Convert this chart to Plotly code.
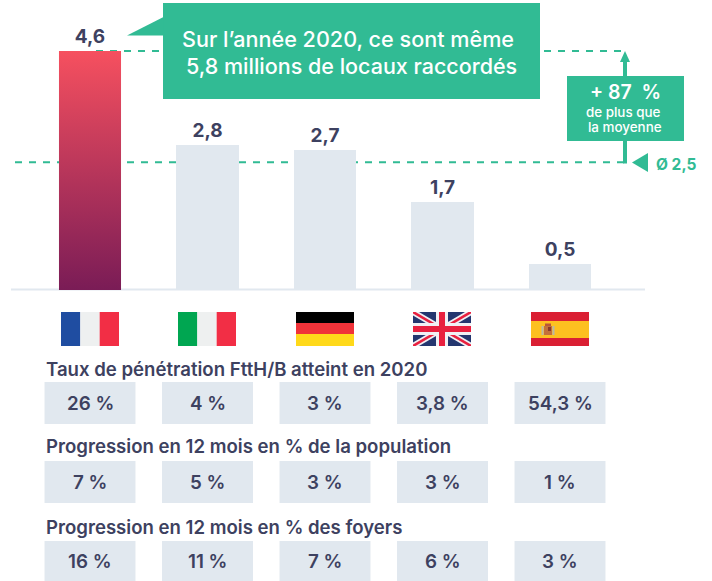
import plotly.graph_objects as go

COUNTRIES = ["France", "Italie", "Allemagne", "Royaume-Uni", "Espagne"]
LOCAUX = [4.6, 2.8, 2.7, 1.7, 0.5]
LABELS = ["4,6", "2,8", "2,7", "1,7", "0,5"]
MOYENNE_TRACE = 2.46
ROW_TITLES = [
    "Taux de pénétration FttH/B atteint en 2020",
    "Progression en 12 mois en % de la population",
    "Progression en 12 mois en % des foyers",
]
ROW_1 = ["26 %", "4 %", "3 %", "3,8 %", "54,3 %"]
ROW_2 = ["7 %", "5 %", "3 %", "3 %", "1 %"]
ROW_3 = ["16 %", "11 %", "7 %", "6 %", "3 %"]

W, H = 712, 581
GREEN = "#31bb94"
DARK = "#3d4160"
CELL = "#e1e8ef"
FONT = "Inter"
BARW = 0.528


def X(p):
    return p / W


def Y(p):
    return 1 - p / H


def poly(pts, color, layer="above"):
    path = "M " + " L ".join(f"{X(a):.5f},{Y(b):.5f}" for a, b in pts) + " Z"
    return dict(type="path", xref="paper", yref="paper", path=path,
                fillcolor=color, line=dict(width=0), layer=layer)


def rect(x0, y0, x1, y1, color, layer="above"):
    return dict(type="rect", xref="paper", yref="paper", x0=X(x0), x1=X(x1),
                y0=Y(y1), y1=Y(y0), fillcolor=color, line=dict(width=0), layer=layer)


def text(x, y, s, size, color=DARK, weight=600, anchor="center"):
    return dict(xref="paper", yref="paper", x=X(x), y=Y(y), text=s, showarrow=False,
                xanchor=anchor, yanchor="middle",
                font=dict(family=FONT, size=size, color=color, weight=weight))


fig = go.Figure()
fig.add_trace(go.Bar(
    x=COUNTRIES, y=LOCAUX, width=BARW,
    marker=dict(color=["#b23a5c", CELL, CELL, CELL, CELL], line=dict(width=0)),
    text=LABELS, textposition="outside", cliponaxis=False,
    textfont=dict(family=FONT, size=19, color=DARK, weight=700),
    hoverinfo="x+y",
))
# French bar gradient, from the first value, on a numeric overlay of the same axis
fig.add_trace(go.Scatter(
    x=[-BARW / 2, BARW / 2, BARW / 2, -BARW / 2, -BARW / 2],
    y=[0, 0, LOCAUX[0], LOCAUX[0], 0],
    xaxis="x2",
    mode="none", fill="toself",
    fillgradient=dict(type="vertical", colorscale=[[0, "#7a1c56"], [1, "#f6505f"]]),
    hoverinfo="skip", showlegend=False,
))

shapes = []
annots = []

# baseline
shapes.append(rect(11, 288.5, 645, 290.5, CELL, "below"))
# dashed reference lines
dash = "7px,7px"
shapes.append(dict(type="line", xref="paper", yref="y", x0=X(96), x1=X(625), y0=LOCAUX[0], y1=LOCAUX[0],
                   line=dict(color=GREEN, width=2, dash=dash), layer="below"))
shapes.append(dict(type="line", xref="paper", yref="y", x0=X(15), x1=X(625), y0=MOYENNE_TRACE, y1=MOYENNE_TRACE,
                   line=dict(color=GREEN, width=2, dash=dash), layer="below"))

# callout
shapes.append(rect(163, 3, 540, 99, GREEN))
shapes.append(poly([(127, 35.5), (163.5, 17), (163.5, 35.5)], GREEN))
annots.append(text(347.5, 38.5, "Sur l’année 2020, ce sont même", 21.6, "white", 500))
annots.append(text(351, 65.5, "5,8 millions de locaux raccordés", 21.5, "white", 500))

# arrow + box
shapes.append(rect(623, 60, 627, 163.5, GREEN))
shapes.append(poly([(625, 51), (630, 62), (620, 62)], GREEN))
shapes.append(rect(567, 76, 684, 141, GREEN))
annots.append(text(625, 92, "+ 87  %", 19.5, "white", 600))
annots.append(text(623.5, 112, "de plus que", 13.4, "white", 500))
annots.append(text(625, 127.5, "la moyenne", 13.4, "white", 500))
shapes.append(poly([(632, 162.5), (648, 153), (648, 172)], GREEN))
annots.append(text(653.5, 164.5, "Ø 2,5", 15.5, GREEN, 700, "left"))

# flags
FT, FB, FW = 312, 346, 58


def vflag(x0, colors):
    s = FW / 3
    return [rect(x0 + i * s, FT, x0 + (i + 1) * s, FB, c) for i, c in enumerate(colors)]


shapes += vflag(61, ["#1f4da1", "#eef0f0", "#f22e45"])
shapes += vflag(178, ["#00a651", "#eef0f0", "#f22e45"])
shapes += [rect(296, 312, 354, 323, "#000000"), rect(296, 323, 354, 334, "#f03339"), rect(296, 334, 354, 346, "#ffd91a")]

# UK
ux0, ux1 = 413, 471
shapes.append(rect(ux0, FT, ux1, FB, "#24366f"))


def diag(t, color):
    return [
        poly([(ux0, FT), (ux0 + t, FT), (ux1, FB - t * .6), (ux1, FB), (ux1 - t, FB), (ux0, FT + t * .6)], color),
        poly([(ux1, FT), (ux1 - t, FT), (ux0, FB - t * .6), (ux0, FB), (ux0 + t, FB), (ux1, FT + t * .6)], color),
    ]


shapes += diag(6, "#f0f0f4")
shapes += diag(2.5, "#e8203f")
shapes += [rect(436, FT, 448, FB, "#f0f0f4"), rect(ux0, 323, ux1, 335, "#f0f0f4")]
shapes += [rect(439, FT, 445, FB, "#e8203f"), rect(ux0, 326, ux1, 332, "#e8203f")]

# Spain
shapes += [rect(531, 312, 589, 346, "#da1f33"), rect(531, 321, 589, 338, "#fdc020")]
shapes += [rect(544, 326, 552, 335, "#c4703a"), rect(545, 323.5, 551, 326, "#b8553a"),
           rect(541.5, 326, 543.5, 335, "#b8b8a8"), rect(552.5, 326, 554.5, 335, "#b8b8a8"),
           rect(548, 327, 551, 331, "#8a3a2a")]

# table
CELLW = 0.774
rows = [(ROW_TITLES[0], 368.5, ROW_1, 382, 424),
        (ROW_TITLES[1], 446, ROW_2, 461, 503),
        (ROW_TITLES[2], 527, ROW_3, 541, 581)]
for title, ty, vals, y0, y1 in rows:
    annots.append(text(43.5, ty, title, 18.6, DARK, 600, "left"))
    for i, v in enumerate(vals):
        shapes.append(dict(type="rect", xref="x", yref="paper", x0=i - CELLW / 2, x1=i + CELLW / 2,
                           y0=Y(y1), y1=Y(y0), fillcolor=CELL, line=dict(width=0), layer="below"))
        annots.append(dict(xref="x", yref="paper", x=COUNTRIES[i], y=Y((y0 + y1) / 2 + 0.5), text=v, showarrow=False,
                           xanchor="center", yanchor="middle",
                           font=dict(family=FONT, size=18.8, color=DARK, weight=600)))

STEP, X0 = 117.5, 90
UNIT, BASE = 51.96, 290
XRANGE = [-X0 / STEP, (W - X0) / STEP]
fig.update_layout(
    width=W, height=H, margin=dict(l=0, r=0, t=0, b=0),
    paper_bgcolor="white", plot_bgcolor="white", showlegend=False,
    shapes=shapes, annotations=annots, bargap=0,
    xaxis=dict(type="category", categoryorder="array", categoryarray=COUNTRIES, visible=False,
               range=XRANGE, fixedrange=True),
    xaxis2=dict(type="linear", overlaying="x", visible=False, range=XRANGE, fixedrange=True),
    yaxis=dict(visible=False, range=[(BASE - H) / UNIT, BASE / UNIT], fixedrange=True),
)
fig.write_html("out.html", config=dict(displayModeBar=False),
               post_script="document.body.style.margin='0';document.body.style.overflow='hidden';")
